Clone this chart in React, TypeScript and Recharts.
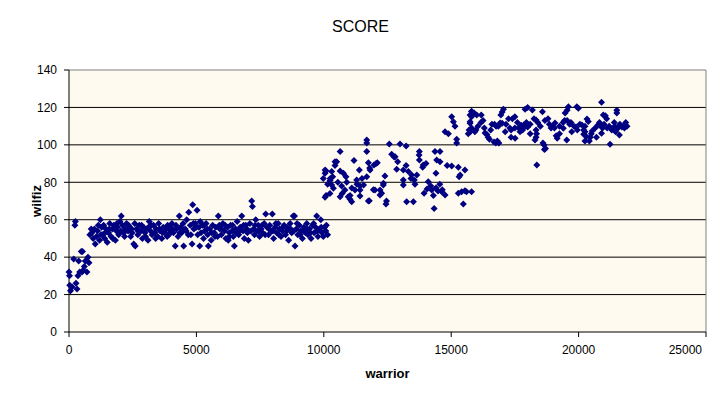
import { ReferenceArea, ReferenceLine, Scatter, ScatterChart, XAxis, YAxis } from "recharts";

// values, [warrior, wilfiz]
const rampPoints: [number, number][] = [
  [0, 32], [20, 30], [30, 25], [60, 22], [120, 24], [185, 39], [230, 57], [250, 59],
  [275, 26], [315, 23], [350, 30], [380, 38], [420, 32], [480, 43], [510, 32], [530, 43],
  [560, 33], [600, 35], [640, 38], [705, 32], [745, 40], [785, 37],
];

const plateauPoints: [number, number][] = [
  [820, 52], [900, 53], [950, 50], [1000, 55], [1030, 47], [1080, 51], [1120, 54], [1200, 49], [1230, 60], [1280, 56],
  [1320, 52], [1360, 57], [1400, 50], [1450, 55], [1500, 48], [1550, 53], [1600, 58], [1650, 51], [1700, 55], [1760, 57],
  [1820, 49], [1860, 54], [1900, 56], [1950, 52], [2000, 59], [2050, 62], [2100, 57], [2150, 53], [2200, 55], [2260, 58],
  [2320, 54], [2380, 56], [2420, 51], [2480, 53], [2540, 47], [2600, 46], [2650, 55], [2700, 52], [2760, 57],
  [2820, 54], [2880, 50], [2930, 56], [2980, 53], [3050, 55], [3100, 49], [3150, 59], [3200, 54], [3260, 52],
  [3320, 57], [3370, 53], [3420, 55], [3480, 51], [3520, 58], [3580, 54], [3640, 50], [3700, 56], [3760, 53],
  [3820, 55], [3870, 57], [3920, 52], [3980, 54], [4040, 58], [4100, 53], [4170, 46], [4220, 55], [4280, 51],
  [4330, 62], [4380, 56], [4420, 53], [4480, 58], [4500, 46], [4560, 55], [4620, 60], [4680, 52], [4700, 64], [4760, 57],
  [4830, 47], [4855, 68], [4900, 55], [4960, 58], [5025, 65], [5050, 52], [5100, 56], [5130, 46], [5180, 53], [5240, 57], [5280, 50],
  [5320, 54], [5380, 58], [5440, 52], [5470, 46], [5520, 55], [5580, 49], [5640, 57], [5700, 53], [5760, 56],
  [5830, 51], [5860, 62], [5920, 55], [5980, 52], [6040, 58], [6100, 54], [6160, 50], [6220, 56], [6250, 49], [6290, 53],
  [6340, 57], [6400, 54], [6450, 51], [6490, 46], [6540, 55], [6600, 59], [6660, 52], [6720, 56], [6780, 62],
  [6830, 54], [6880, 50], [6940, 57], [7000, 53], [7040, 49], [7100, 58], [7170, 70], [7200, 67], [7240, 55], [7280, 52],
  [7330, 60], [7380, 54], [7430, 57], [7480, 51], [7540, 55], [7600, 53], [7660, 58], [7720, 63], [7770, 56],
  [7830, 52], [7880, 57], [7940, 54], [7980, 63], [8030, 50], [8090, 56], [8150, 53], [8210, 58], [8270, 55],
  [8320, 51], [8380, 54], [8440, 57], [8500, 52], [8560, 56], [8620, 49], [8680, 58], [8740, 53], [8800, 62],
  [8850, 62], [8870, 46], [8920, 55], [8980, 52], [9040, 57], [9100, 54], [9160, 50], [9220, 56], [9280, 53],
  [9330, 58], [9380, 52], [9440, 55], [9500, 50], [9560, 57], [9620, 53], [9680, 56], [9720, 62], [9770, 51],
  [9830, 55], [9880, 60], [9930, 53], [9980, 51], [10030, 56], [10080, 54], [10150, 52],
];

// second pass over the dense part of the band
const plateauFill: [number, number][] = [
  [870, 55], [1150, 57], [1260, 52], [1420, 53], [1580, 55], [1720, 50], [1880, 58], [2030, 54], [2180, 51], [2340, 57],
  [2460, 55], [2580, 58], [2720, 54], [2850, 57], [3000, 51], [3120, 56], [3240, 57], [3400, 50], [3550, 55], [3680, 53],
  [3850, 51], [3950, 56], [4070, 55], [4200, 57], [4350, 53], [4450, 55], [4600, 54], [4780, 52], [4880, 58], [5000, 56],
  [5150, 59], [5300, 57], [5420, 55], [5600, 53], [5730, 51], [5900, 57], [6000, 55], [6130, 57], [6300, 51], [6420, 57],
  [6570, 53], [6700, 54], [6850, 57], [6980, 55], [7140, 54], [7300, 57], [7450, 54], [7580, 57], [7700, 52], [7850, 55],
  [8000, 54], [8120, 58], [8240, 52], [8400, 56], [8540, 54], [8700, 55], [8820, 54], [8950, 58], [9070, 52], [9200, 54],
  [9350, 55], [9470, 53], [9600, 58], [9750, 54], [9900, 56], [10100, 57],
];

const risePoints: [number, number][] = [
  [9980, 82], [10050, 86.6], [10050, 84.8], [10050, 72], [10090, 86], [10090, 73], [10150, 79], [10240, 74], [10245, 81],
  [10250, 82], [10310, 85.7], [10310, 78.6], [10350, 83], [10375, 76.8], [10440, 89], [10440, 91], [10505, 91], [10550, 80],
  [10640, 96.4], [10640, 86], [10640, 72.3], [10700, 78], [10720, 74], [10770, 84.8], [10830, 75.9], [10870, 83], [10900, 80],
  [10960, 72.3], [11030, 71], [11030, 73], [11095, 69.6], [11100, 77], [11185, 91.6], [11225, 75.9], [11290, 81.2], [11300, 79],
  [11395, 86.6], [11420, 75.9], [11420, 78], [11420, 72.7], [11500, 82], [11560, 78.6], [11685, 102.6], [11685, 101],
  [11685, 96.4], [11685, 83], [11750, 90.5], [11750, 70], [11785, 70.2], [11800, 87.6], [11815, 86.6], [11945, 76],
  [11970, 89.2], [12010, 75.9], [12050, 90], [12100, 90.5], [12205, 75.9], [12205, 73.2], [12270, 74.2], [12335, 78.6],
  [12340, 79.5], [12400, 83.4], [12440, 68.4], [12460, 70], [12570, 100.5], [12665, 95], [12760, 93.5], [12800, 93.7],
  [12860, 86.9], [12900, 91], [12990, 100.5], [13120, 86.6], [13120, 81.2], [13120, 78.6], [13230, 99.4], [13230, 89],
  [13250, 69.6], [13320, 85.7], [13420, 82], [13450, 83.9], [13515, 69.6], [13550, 81.2], [13580, 79], [13650, 83.9],
  [13740, 94.6], [13750, 96.4], [13750, 91.9], [13880, 88], [13900, 89.3], [13935, 74.1], [14010, 90.1], [14050, 76.4],
  [14100, 80.3], [14200, 78], [14235, 75.9], [14300, 73], [14330, 66], [14365, 96.4], [14400, 84.8], [14400, 77],
  [14430, 91.9], [14480, 75.4], [14550, 79], [14560, 96.4], [14560, 91], [14630, 75], [14650, 76], [14760, 73.2],
  [14840, 89], [15020, 88.7], [15280, 88], [15280, 74.1], [15310, 83], [15350, 83.9], [15410, 75], [15475, 68.4],
  [15540, 86.6], [15540, 75.5], [15600, 75], [15800, 75],
];

const topPoints: [number, number][] = [
  [14760, 107], [14890, 106], [15020, 115], [15085, 112.4], [15150, 110], [15215, 101], [15215, 103], [15670, 106],
  [15740, 111.5], [15805, 117.7], [15740, 116], [15800, 118], [15900, 117], [16000, 116], [16180, 116], [15800, 115],
  [15740, 112.4], [15700, 108], [15750, 107], [15800, 109], [16170, 112], [16250, 113], [15970, 108], [15930, 107],
  [16330, 106.4], [16400, 105.5], [16450, 104], [16500, 103], [16680, 101.5], [16750, 101], [16810, 102], [16870, 101],
  [16600, 111], [16700, 111], [16760, 110], [16920, 111.7], [17000, 111.5], [17000, 117.5], [17050, 119], [16950, 116],
  [17250, 114], [17400, 114], [17500, 115], [17300, 109], [17350, 108], [17120, 107], [17510, 103.5], [17700, 107],
  [17500, 109], [17650, 109], [17750, 110.5], [17850, 110.6], [17950, 111.5], [18000, 109.5], [17950, 112], [17900, 110],
  [17900, 119], [18000, 120], [18185, 118.6], [18250, 114], [18330, 113.3], [18400, 112], [18330, 108], [18350, 106],
  [18330, 104], [18290, 102.6], [18645, 99.9], [18700, 98], [18600, 101], [18660, 97.5], [18580, 117.7], [18680, 113],
  [18800, 114], [18360, 89.2], [18920, 109], [19000, 110], [19050, 109], [19075, 111.7], [19120, 104.8], [19160, 103.5],
  [19390, 112], [19450, 113], [19550, 113], [19650, 111], [19470, 117], [19550, 118.5], [19600, 120.4], [19400, 108.9],
  [19535, 102.6], [19820, 110], [19900, 109.5], [19950, 108], [19730, 107], [19990, 119.5], [19930, 120.4], [20130, 110.6],
  [20200, 108], [20250, 110], [20200, 105.7], [20330, 113.8], [20380, 112.5], [20250, 107], [20300, 104.5], [20250, 102],
  [20530, 107.4], [20500, 106], [20460, 104], [20420, 102], [20760, 110.6], [20820, 112], [20880, 110], [20940, 109],
  [20900, 122.8], [20970, 116], [21050, 115.5], [21100, 114], [21500, 117], [21500, 118.5], [20900, 106.2], [21120, 109],
  [21200, 110], [21300, 108], [21360, 108.5], [21420, 110], [21550, 109], [21620, 111], [21700, 109.5], [21750, 110],
  [21800, 109], [21600, 105.3], [21235, 100.3], [21850, 112],
  [16050, 110], [16300, 109], [16550, 108], [16850, 110], [17150, 111], [17600, 112], [17800, 108], [18100, 111],
  [18500, 110], [18850, 111], [19250, 110], [19700, 112], [20050, 111], [20650, 109], [21000, 111], [21400, 112],
  [21900, 110], [17350, 104], [18100, 106], [19250, 106], [20700, 104], [21450, 107],
];

const xTicks = [0, 5000, 10000, 15000, 20000, 25000];
const yTicks = [0, 20, 40, 60, 80, 100, 120, 140];
const gridValues = [20, 40, 60, 80, 100, 120];

const data = [...rampPoints, ...plateauPoints, ...plateauFill, ...risePoints, ...topPoints].map(([x, y]) => ({ x, y }));

const font = "'Liberation Sans', Arial, sans-serif";
const tickStyle = { fontFamily: font, fontSize: 12, fill: "#000" };

function Diamond(props: { cx?: number; cy?: number }) {
  const { cx = 0, cy = 0 } = props;
  const r = 3.5;
  return (
    <path
      d={`M${cx},${cy - r}L${cx + r},${cy}L${cx},${cy + r}L${cx - r},${cy}Z`}
      fill="#000080"
    />
  );
}

// last label sits inside the chart edge, like the reference
function XTick(props: any) {
  const { x, y, payload } = props;
  const last = payload.value === 25000;
  return (
    <text
      x={last ? x + 1 : x}
      y={y}
      dy="0.71em"
      textAnchor={last ? "end" : "middle"}
      fontFamily={font}
      fontSize={12}
      fill="#000"
    >
      {payload.value}
    </text>
  );
}

export default function App() {
  return (
    <div style={{ position: "absolute", left: 0, top: 0, width: 721, height: 399, background: "#fff", fontFamily: font }}>
      <div style={{ position: "absolute", top: 18, left: 0, width: 721, textAlign: "center", fontSize: 16, lineHeight: "18px" }}>
        SCORE
      </div>
      <ScatterChart width={721} height={399} margin={{ top: 70, right: 15, bottom: 37, left: 9 }}>
        <ReferenceArea x1={0} x2={25000} y1={0} y2={140} fill="#FFFAEF" fillOpacity={1} stroke="none" />
        {gridValues.map((v) => (
          <ReferenceLine key={v} y={v} stroke="#000" />
        ))}
        <ReferenceLine y={140} stroke="#808080" />
        <ReferenceLine x={25000} stroke="#808080" />
        <XAxis
          type="number"
          dataKey="x"
          domain={[0, 25000]}
          ticks={xTicks}
          tick={<XTick />}
          tickSize={5}
          tickMargin={8}
          stroke="#000"
          height={30}
        />
        <YAxis
          type="number"
          dataKey="y"
          domain={[0, 140]}
          ticks={yTicks}
          tick={tickStyle}
          tickSize={5}
          tickMargin={7}
          stroke="#000"
          width={60}
        />
        <Scatter data={data} shape={<Diamond />} isAnimationActive={false} />
      </ScatterChart>
      <div style={{ position: "absolute", top: 366, left: 69, width: 637, textAlign: "center", fontSize: 13, fontWeight: "bold", lineHeight: "16px" }}>
        warrior
      </div>
      <div
        style={{
          position: "absolute",
          left: 37,
          top: 201,
          transform: "translate(-50%, -50%) rotate(-90deg)",
          fontSize: 13,
          fontWeight: "bold",
          lineHeight: "16px",
          whiteSpace: "nowrap",
        }}
      >
        wilfiz
      </div>
    </div>
  );
}
